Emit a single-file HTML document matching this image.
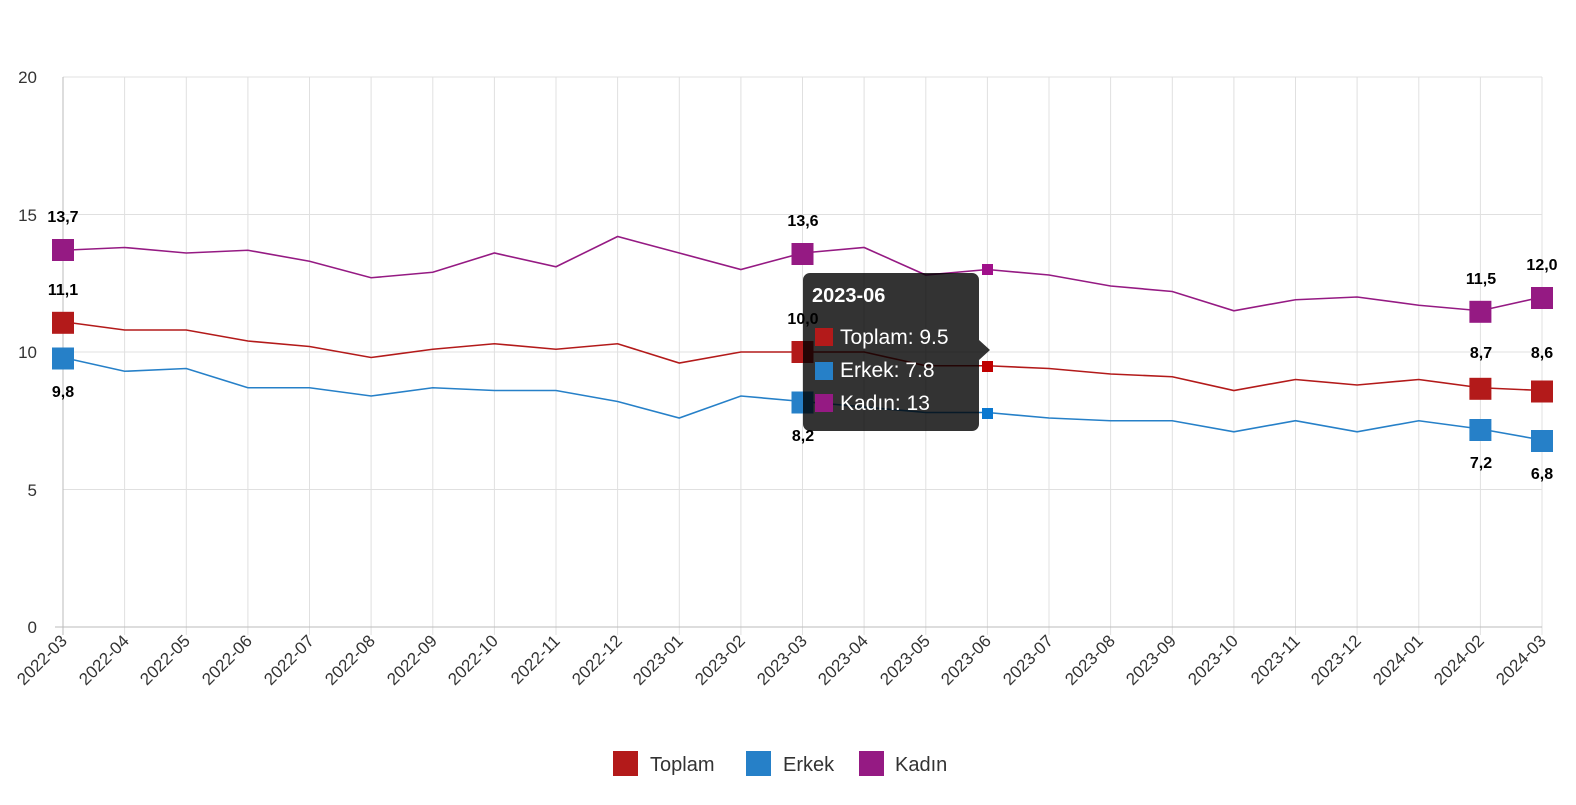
<!DOCTYPE html>
<html><head><meta charset="utf-8"><style>
body{margin:0;background:#fff;width:1576px;height:800px;overflow:hidden}
svg{font-family:"Liberation Sans",sans-serif}
.g{stroke:#e0e0e0;stroke-width:1}
.lb{font-weight:bold;font-size:16px;fill:#000;text-anchor:middle}
.ax{font-size:17px;fill:#333}
</style></head><body>
<svg width="1576" height="800" xmlns="http://www.w3.org/2000/svg">
<g class="g">
<line x1="63" y1="77" x2="1542" y2="77"/><line x1="63" y1="214.5" x2="1542" y2="214.5"/><line x1="63" y1="352" x2="1542" y2="352"/><line x1="63" y1="489.5" x2="1542" y2="489.5"/>
<line x1="124.6" y1="77" x2="124.6" y2="635"/><line x1="186.3" y1="77" x2="186.3" y2="635"/><line x1="247.9" y1="77" x2="247.9" y2="635"/><line x1="309.5" y1="77" x2="309.5" y2="635"/><line x1="371.1" y1="77" x2="371.1" y2="635"/><line x1="432.8" y1="77" x2="432.8" y2="635"/><line x1="494.4" y1="77" x2="494.4" y2="635"/><line x1="556" y1="77" x2="556" y2="635"/><line x1="617.6" y1="77" x2="617.6" y2="635"/><line x1="679.3" y1="77" x2="679.3" y2="635"/><line x1="740.9" y1="77" x2="740.9" y2="635"/><line x1="802.5" y1="77" x2="802.5" y2="635"/><line x1="864.1" y1="77" x2="864.1" y2="635"/><line x1="925.8" y1="77" x2="925.8" y2="635"/><line x1="987.4" y1="77" x2="987.4" y2="635"/><line x1="1049" y1="77" x2="1049" y2="635"/><line x1="1110.6" y1="77" x2="1110.6" y2="635"/><line x1="1172.3" y1="77" x2="1172.3" y2="635"/><line x1="1233.9" y1="77" x2="1233.9" y2="635"/><line x1="1295.5" y1="77" x2="1295.5" y2="635"/><line x1="1357.1" y1="77" x2="1357.1" y2="635"/><line x1="1418.8" y1="77" x2="1418.8" y2="635"/><line x1="1480.4" y1="77" x2="1480.4" y2="635"/><line x1="1542" y1="77" x2="1542" y2="635"/>
</g>
<line x1="63" y1="77" x2="63" y2="635" stroke="#bbb"/>
<line x1="55" y1="627" x2="1542" y2="627" stroke="#bbb"/>
<g class="ax" text-anchor="end">
<text x="37" y="83">20</text><text x="37" y="221">15</text><text x="37" y="358">10</text><text x="37" y="496">5</text><text x="37" y="633">0</text>
</g>
<g class="ax" text-anchor="end" font-size="16">
<text transform="translate(68,642) rotate(-45)">2022-03</text><text transform="translate(130,642) rotate(-45)">2022-04</text><text transform="translate(191,642) rotate(-45)">2022-05</text><text transform="translate(253,642) rotate(-45)">2022-06</text><text transform="translate(315,642) rotate(-45)">2022-07</text><text transform="translate(376,642) rotate(-45)">2022-08</text><text transform="translate(438,642) rotate(-45)">2022-09</text><text transform="translate(499,642) rotate(-45)">2022-10</text><text transform="translate(561,642) rotate(-45)">2022-11</text><text transform="translate(623,642) rotate(-45)">2022-12</text><text transform="translate(684,642) rotate(-45)">2023-01</text><text transform="translate(746,642) rotate(-45)">2023-02</text><text transform="translate(808,642) rotate(-45)">2023-03</text><text transform="translate(869,642) rotate(-45)">2023-04</text><text transform="translate(931,642) rotate(-45)">2023-05</text><text transform="translate(992,642) rotate(-45)">2023-06</text><text transform="translate(1054,642) rotate(-45)">2023-07</text><text transform="translate(1116,642) rotate(-45)">2023-08</text><text transform="translate(1177,642) rotate(-45)">2023-09</text><text transform="translate(1239,642) rotate(-45)">2023-10</text><text transform="translate(1301,642) rotate(-45)">2023-11</text><text transform="translate(1362,642) rotate(-45)">2023-12</text><text transform="translate(1424,642) rotate(-45)">2024-01</text><text transform="translate(1485,642) rotate(-45)">2024-02</text><text transform="translate(1547,642) rotate(-45)">2024-03</text>
</g>
<g transform="translate(63,627) scale(61.625,-27.5)" fill="none" stroke-width="1.6">
<polyline vector-effect="non-scaling-stroke" stroke="#951a83" points="0,13.7 1,13.8 2,13.6 3,13.7 4,13.3 5,12.7 6,12.9 7,13.6 8,13.1 9,14.2 10,13.6 11,13.0 12,13.6 13,13.8 14,12.8 15,13.0 16,12.8 17,12.4 18,12.2 19,11.5 20,11.9 21,12.0 22,11.7 23,11.5 24,12.0"/>
<polyline vector-effect="non-scaling-stroke" stroke="#b31a1a" points="0,11.1 1,10.8 2,10.8 3,10.4 4,10.2 5,9.8 6,10.1 7,10.3 8,10.1 9,10.3 10,9.6 11,10.0 12,10.0 13,10.0 14,9.5 15,9.5 16,9.4 17,9.2 18,9.1 19,8.6 20,9.0 21,8.8 22,9.0 23,8.7 24,8.6"/>
<polyline vector-effect="non-scaling-stroke" stroke="#2680c8" points="0,9.8 1,9.3 2,9.4 3,8.7 4,8.7 5,8.4 6,8.7 7,8.6 8,8.6 9,8.2 10,7.6 11,8.4 12,8.2 13,8.0 14,7.8 15,7.8 16,7.6 17,7.5 18,7.5 19,7.1 20,7.5 21,7.1 22,7.5 23,7.2 24,6.8"/>
</g>
<g>
<rect x="52" y="239" width="22" height="22" fill="#951a83"/><rect x="791.5" y="243" width="22" height="22" fill="#951a83"/><rect x="1469.4" y="300.8" width="22" height="22" fill="#951a83"/><rect x="1531" y="287" width="22" height="22" fill="#951a83"/>
<rect x="52" y="311.8" width="22" height="22" fill="#b31a1a"/><rect x="791.5" y="341" width="22" height="22" fill="#b31a1a"/><rect x="1469.4" y="377.8" width="22" height="22" fill="#b31a1a"/><rect x="1531" y="380.5" width="22" height="22" fill="#b31a1a"/>
<rect x="52" y="347.5" width="22" height="22" fill="#2680c8"/><rect x="791.5" y="391.5" width="22" height="22" fill="#2680c8"/><rect x="1469.4" y="419" width="22" height="22" fill="#2680c8"/><rect x="1531" y="430" width="22" height="22" fill="#2680c8"/>
<rect x="982" y="264" width="11" height="11" fill="#a0108a"/><rect x="982" y="361" width="11" height="11" fill="#c00000"/><rect x="982" y="408" width="11" height="11" fill="#0a78d0"/>
</g>
<g class="lb">
<text x="63" y="222">13,7</text><text x="803" y="226">13,6</text><text x="1481" y="284">11,5</text><text x="1542" y="270">12,0</text>
<text x="63" y="295">11,1</text><text x="803" y="324">10,0</text><text x="1481" y="358">8,7</text><text x="1542" y="358">8,6</text>
<text x="63" y="397">9,8</text><text x="803" y="441">8,2</text><text x="1481" y="468">7,2</text><text x="1542" y="479">6,8</text>
</g>
<g>
<path d="M810,273 H972 a7,7 0 0 1 7,7 V340 L990,350 L979,360 V424 a7,7 0 0 1 -7,7 H810 a7,7 0 0 1 -7,-7 V280 a7,7 0 0 1 7,-7Z" fill="rgba(0,0,0,0.8)"/>
<text x="812" y="302" fill="#fff" font-weight="bold" font-size="20">2023-06</text>
<rect x="815" y="328" width="18" height="18" fill="#b31a1a"/><text x="840" y="344" fill="#fff" font-size="21">Toplam: 9.5</text>
<rect x="815" y="362" width="18" height="18" fill="#2680c8"/><text x="840" y="377" fill="#fff" font-size="21">Erkek: 7.8</text>
<rect x="815" y="394" width="18" height="18" fill="#951a83"/><text x="840" y="410" fill="#fff" font-size="21">Kadın: 13</text>
</g>
<g font-size="20" fill="#333">
<rect x="613" y="751" width="25" height="25" fill="#b31a1a"/><text x="650" y="771">Toplam</text>
<rect x="746" y="751" width="25" height="25" fill="#2680c8"/><text x="783" y="771">Erkek</text>
<rect x="859" y="751" width="25" height="25" fill="#951a83"/><text x="895" y="771">Kadın</text>
</g>
</svg>
</body></html>
